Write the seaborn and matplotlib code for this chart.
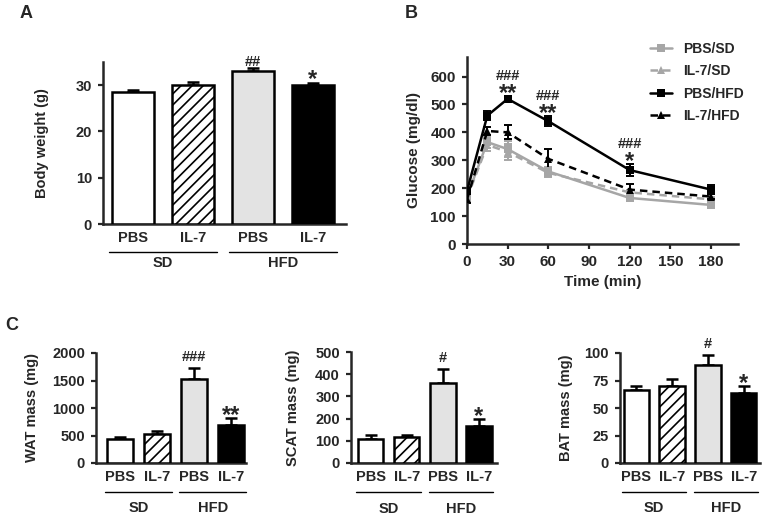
import numpy as np
import pandas as pd
import matplotlib
matplotlib.use('Agg')
import matplotlib.pyplot as plt
import matplotlib.transforms as mtransforms
import seaborn as sns

sns.set_style('ticks')
plt.rcParams['font.family'] = ['Liberation Sans', 'DejaVu Sans']
plt.rcParams['font.weight'] = 'bold'
plt.rcParams['axes.labelweight'] = 'bold'
plt.rcParams['hatch.linewidth'] = 1.2

# ---- data ----
bar_groups = ['PBS/SD', 'IL-7/SD', 'PBS/HFD', 'IL-7/HFD']
bar_ticklabels = ['PBS', 'IL-7', 'PBS', 'IL-7']
bar_colors = ['white', 'white', '#e3e3e3', 'black']

bw_mean = [28.5, 30.0, 33.0, 30.0]
bw_err = [0.5, 0.6, 0.8, 0.4]
bw_marks = ['', '', '##', '*']

wat_mean = [430, 530, 1530, 700]
wat_err = [50, 60, 190, 110]
wat_marks = ['', '', '###', '**']

scat_mean = [110, 115, 360, 165]
scat_err = [15, 10, 65, 35]
scat_marks = ['', '', '#', '*']

bat_mean = [66, 70, 89, 64]
bat_err = [4, 6, 9, 6]
bat_marks = ['', '', '#', '*']

time_min = [0, 15, 30, 60, 120, 180]
gtt_series = ['PBS/SD', 'IL-7/SD', 'PBS/HFD', 'IL-7/HFD']
gtt_mean = {
    'PBS/SD':   [170, 365, 340, 260, 165, 140],
    'IL-7/SD':  [165, 355, 330, 255, 185, 160],
    'PBS/HFD':  [190, 460, 520, 440, 265, 195],
    'IL-7/HFD': [160, 405, 400, 305, 195, 170],
}
gtt_err = {
    'PBS/SD':   [15, 20, 30, 15, 10, 8],
    'IL-7/SD':  [15, 20, 30, 15, 10, 8],
    'PBS/HFD':  [15, 15, 10, 18, 20, 15],
    'IL-7/HFD': [12, 15, 25, 35, 20, 10],
}
gtt_colors = {'PBS/SD': '#a6a6a6', 'IL-7/SD': '#a6a6a6', 'PBS/HFD': 'black', 'IL-7/HFD': 'black'}
gtt_markers = {'PBS/SD': 's', 'IL-7/SD': '^', 'PBS/HFD': 's', 'IL-7/HFD': '^'}
gtt_dashes = {'PBS/SD': '', 'IL-7/SD': (3, 2), 'PBS/HFD': '', 'IL-7/HFD': (3, 2)}
gtt_times_marked = [30, 60, 120]
gtt_hash = ['###', '###', '###']
gtt_star = ['**', '**', '*']

W, H = 765, 516
fig = plt.figure(figsize=(7.65, 5.16), dpi=100)

HASH_FS = 10.5
STAR_FS = 17


def px_axes(left, right, top, bottom):
    return fig.add_axes([left / W, 1 - bottom / H, (right - left) / W, (bottom - top) / H])


def style_axes(ax, fs):
    sns.despine(ax=ax)
    for s in ['left', 'bottom']:
        ax.spines[s].set_linewidth(1.8)
    ax.tick_params(width=1.6, length=3.5, labelsize=fs, pad=4.5)
    for lab in ax.get_xticklabels() + ax.get_yticklabels():
        lab.set_fontweight('bold')


def put_mark(ax, x, y, txt, hash_off, star_off):
    if '#' in txt:
        ax.annotate(txt, (x, y), xytext=(0, hash_off), textcoords='offset pixels',
                    ha='center', va='baseline', fontsize=HASH_FS, fontweight='bold')
    else:
        ax.annotate(txt, (x, y), xytext=(0, star_off), textcoords='offset pixels',
                    ha='center', va='baseline', fontsize=STAR_FS, fontweight='bold')


def bar_panel(ax, means, errs, marks, ylim, yticks, ylabel, fs, line_y, grp_y, xlim,
              labelpad, hash_off=7, star_off=-4):
    df = pd.DataFrame({'group': bar_groups, 'value': means})
    sns.barplot(data=df, x='group', y='value', hue='group', palette=bar_colors,
                legend=False, edgecolor='black', linewidth=1.8, width=0.7, ax=ax,
                errorbar=None)
    for p in ax.patches:
        p.set_zorder(3)
    ax.patches[1].set_hatch('///')
    xs = np.arange(len(means))
    ax.errorbar(xs, means, yerr=[np.zeros(len(errs)), errs], fmt='none', ecolor='black',
                elinewidth=1.8, capsize=4, capthick=1.8, zorder=2)
    ax.set_ylim(*ylim)
    ax.set_yticks(yticks)
    ax.set_xlim(*xlim)
    ax.set_xticks(xs)
    ax.set_xticklabels(bar_ticklabels)
    ax.set_xlabel('')
    ax.set_ylabel(ylabel, fontsize=fs, fontweight='bold', labelpad=labelpad)
    style_axes(ax, fs)
    ax.tick_params(axis='x', length=0, pad=5)
    for x, m, e, t in zip(xs, means, errs, marks):
        if t:
            put_mark(ax, x, m + e, t, hash_off, star_off)
    trans = mtransforms.blended_transform_factory(ax.transData, ax.transAxes)
    for (x0, x1), name in zip([(-0.4, 1.4), (1.6, 3.4)], ['SD', 'HFD']):
        ax.plot([x0, x1], [line_y, line_y], color='black', lw=1.0, transform=trans, clip_on=False)
        ax.text((x0 + x1) / 2, grp_y, name, transform=trans, ha='center', va='center',
                fontsize=fs, fontweight='bold')


# ---- Panel A ----
axA = px_axes(103, 346, 62, 224)
bar_panel(axA, bw_mean, bw_err, bw_marks, (0, 35), [0, 10, 20, 30], 'Body weight (g)',
          10.5, -0.17, -0.24, (-0.5, 3.55), labelpad=19, hash_off=2, star_off=-3)

# ---- Panel B ----
axB = px_axes(467, 738, 57, 244)
rows = []
for s in gtt_series:
    for t, v in zip(time_min, gtt_mean[s]):
        rows.append({'time': t, 'glucose': v, 'group': s})
gdf = pd.DataFrame(rows)
sns.lineplot(data=gdf, x='time', y='glucose', hue='group', style='group',
             hue_order=gtt_series, style_order=gtt_series, palette=gtt_colors,
             markers=gtt_markers, dashes=gtt_dashes, linewidth=1.8, markersize=5.5,
             markeredgewidth=0, ax=axB, legend=True, zorder=3)
for s in gtt_series:
    axB.errorbar(time_min, gtt_mean[s], yerr=gtt_err[s], fmt='none',
                 ecolor=gtt_colors[s], elinewidth=1.4, capsize=3, capthick=1.4, zorder=2)
hfd = dict(zip(time_min, gtt_mean['PBS/HFD']))
hfd_e = dict(zip(time_min, gtt_err['PBS/HFD']))
for t, h, st in zip(gtt_times_marked, gtt_hash, gtt_star):
    top = hfd[t] + hfd_e[t]
    axB.annotate(st, (t, top), xytext=(0, -4), textcoords='offset pixels',
                 ha='center', va='baseline', fontsize=STAR_FS, fontweight='bold')
    axB.annotate(h, (t, top), xytext=(0, 16), textcoords='offset pixels',
                 ha='center', va='baseline', fontsize=HASH_FS, fontweight='bold')
axB.set_xlim(0, 200)
axB.set_ylim(0, 670)
axB.set_xticks([0, 30, 60, 90, 120, 150, 180])
axB.set_yticks([0, 100, 200, 300, 400, 500, 600])
axB.set_xlabel('Time (min)', fontsize=11, fontweight='bold')
axB.set_ylabel('Glucose (mg/dl)', fontsize=11, fontweight='bold', labelpad=6.5)
style_axes(axB, 11)
handles, labels = axB.get_legend_handles_labels()
axB.get_legend().remove()
leg = fig.legend(handles, labels, loc='upper left', bbox_to_anchor=(650 / W, 1 - 42 / H),
                 frameon=False, fontsize=10, handlelength=1.6, labelspacing=0.6,
                 handletextpad=0.8, borderpad=0, borderaxespad=0)
for t in leg.get_texts():
    t.set_fontweight('bold')

# ---- Panel C ----
axC1 = px_axes(96, 246, 353, 463)
bar_panel(axC1, wat_mean, wat_err, wat_marks, (0, 2000), [0, 500, 1000, 1500, 2000],
          'WAT mass (mg)', 10.5, -0.26, -0.41, (-0.65, 3.4), labelpad=9.5)
axC2 = px_axes(351, 497, 352, 463)
bar_panel(axC2, scat_mean, scat_err, scat_marks, (0, 500), [0, 100, 200, 300, 400, 500],
          'SCAT mass (mg)', 10.5, -0.26, -0.41, (-0.55, 3.5), labelpad=11)
axC3 = px_axes(620, 760, 353, 463)
bar_panel(axC3, bat_mean, bat_err, bat_marks, (0, 100), [0, 25, 50, 75, 100],
          'BAT mass (mg)', 10.5, -0.26, -0.41, (-0.45, 3.45), labelpad=8)

# panel letters
for x, y, s in [(20, 14, 'A'), (405, 14, 'B'), (5, 326, 'C')]:
    fig.text(x / W, 1 - y / H, s, fontsize=13, fontweight='bold', va='center', ha='left')

fig.savefig('out.png', dpi=100)
